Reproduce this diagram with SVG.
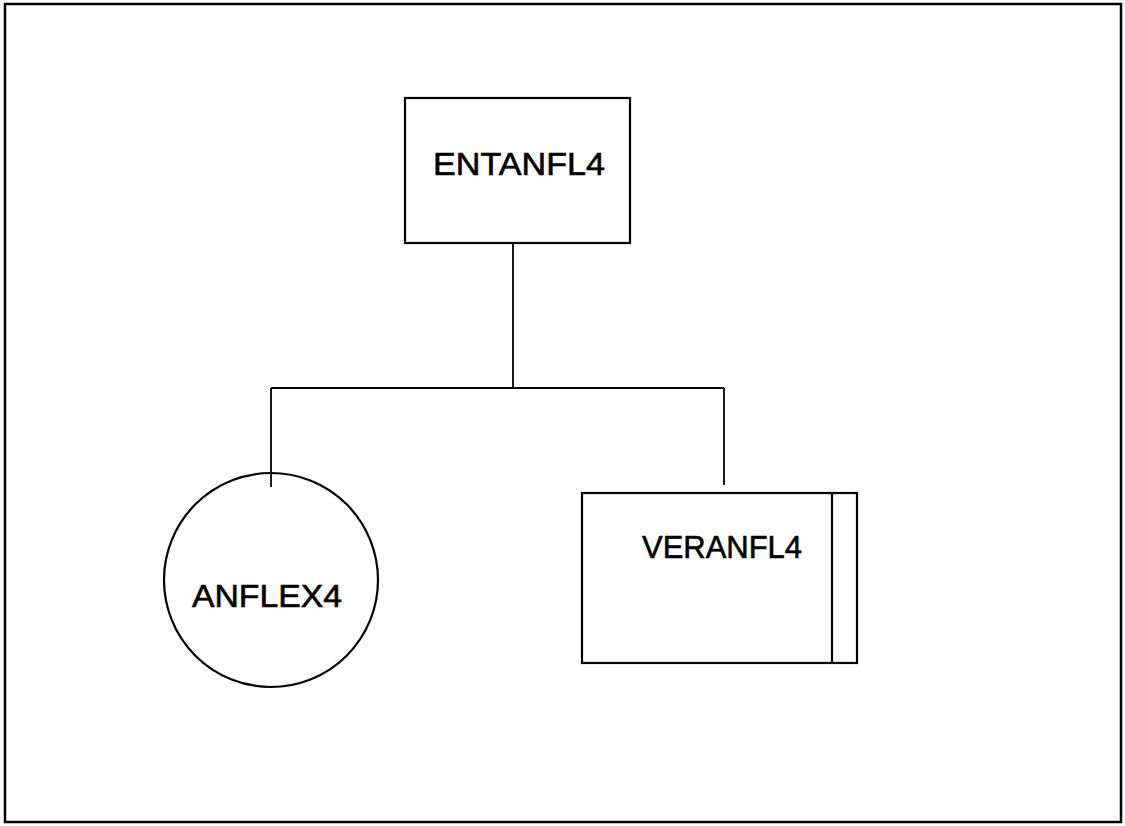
<svg xmlns="http://www.w3.org/2000/svg" width="1125" height="826" viewBox="0 0 1125 826">
<style>
.shape{fill:#fff;stroke:#000;stroke-width:2.2}
.conn{fill:none;stroke:#000;stroke-width:1.8}
.lbl{font-family:"Liberation Sans",Arial,sans-serif;font-size:32px;fill:#000;stroke:#000;stroke-width:0.6}
</style>
<rect x="0" y="0" width="1125" height="826" fill="#fff"/>
<rect x="5" y="4" width="1116" height="818" fill="none" stroke="#000" stroke-width="2.5"/>
<g id="connectors">
<path class="conn" d="M513 243 V388 M271 388 H724 M271 388 V487 M724 388 V485"/>
</g>
<g id="ENTANFL4">
<rect class="shape" x="405" y="98" width="225" height="145"/>
<text class="lbl" x="433" y="175" textLength="172" lengthAdjust="spacingAndGlyphs">ENTANFL4</text>
</g>
<g id="ANFLEX4">
<circle class="shape" cx="271" cy="580" r="107"/>
<line class="conn" x1="271" y1="473" x2="271" y2="487"/>
<text class="lbl" x="192" y="607" textLength="150" lengthAdjust="spacingAndGlyphs">ANFLEX4</text>
</g>
<g id="VERANFL4">
<rect class="shape" x="582" y="493" width="275" height="170"/>
<line class="shape" x1="832" y1="493" x2="832" y2="663"/>
<text class="lbl" x="642" y="558" textLength="160" lengthAdjust="spacingAndGlyphs">VERANFL4</text>
</g>
</svg>
